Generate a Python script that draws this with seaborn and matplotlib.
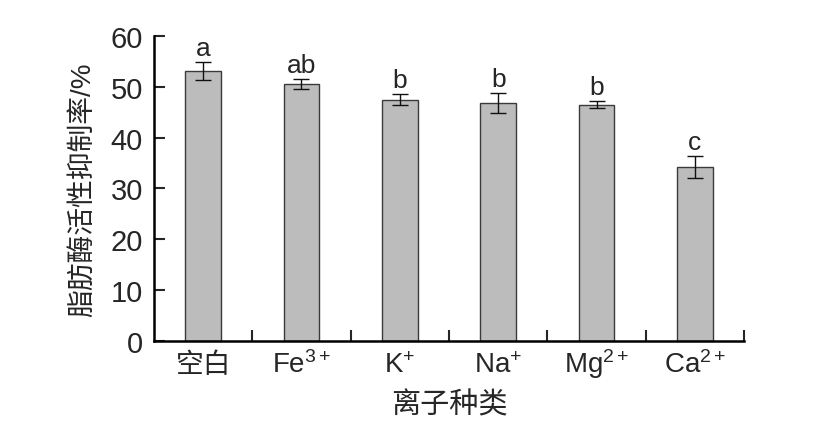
import numpy as np
import pandas as pd
import matplotlib
matplotlib.use("Agg")
import matplotlib.pyplot as plt
import seaborn as sns
from matplotlib.ticker import FixedLocator

# datos
iones = ["空白", "Fe$^{3+}$", "K$^{+}$", "Na$^{+}$", "Mg$^{2+}$", "Ca$^{2+}$"]
inhibicion = [53.1, 50.5, 47.5, 46.8, 46.5, 34.3]
desviacion = [1.8, 1.0, 1.0, 2.0, 0.7, 2.15]
letras = ["a", "ab", "b", "b", "b", "c"]

df = pd.DataFrame({"ion": iones, "inhibicion": inhibicion, "sd": desviacion})

sns.set_style("ticks")
plt.rcParams['font.family'] = ['Liberation Sans', 'Noto Sans CJK SC', 'DejaVu Sans']
plt.rcParams['mathtext.fontset'] = 'custom'
plt.rcParams['mathtext.rm'] = 'Liberation Sans'
plt.rcParams['mathtext.it'] = 'Liberation Sans'
plt.rcParams['mathtext.default'] = 'regular'

fig = plt.figure(figsize=(8.16, 4.31), dpi=100)
ax = fig.add_axes([0.1887, 0.2065, 0.7231, 0.7077])

sns.barplot(data=df, x="ion", y="inhibicion", color="#bdbcbd", width=0.36,
            edgecolor="#3a3a3a", linewidth=1.0, saturation=1, errorbar=None, ax=ax)

pos = np.arange(len(iones))
ax.errorbar(pos, df["inhibicion"], yerr=df["sd"], fmt="none", ecolor="#111111",
            elinewidth=1.0, capsize=5.5, capthick=1.0)

for x, m, s, l in zip(pos, inhibicion, desviacion, letras):
    ax.text(x, m + s + 1.4, l, ha="center", va="baseline", fontsize=19,
            family="Liberation Sans")

ax.set_xlim(-0.5, 5.5)
ax.set_ylim(0, 60)
ax.set_yticks(range(0, 61, 10))
ax.tick_params(axis="y", direction="in", length=8, width=1.5, labelsize=21, pad=8)
ax.tick_params(axis="x", which="major", length=0, labelsize=20, pad=22)
ax.xaxis.set_minor_locator(FixedLocator(np.arange(0.5, 5.6, 1.0)))
ax.tick_params(axis="x", which="minor", direction="in", length=8, width=1.5)

# alinear etiquetas en la linea base (la g de Mg no debe bajar el texto)
for lab in ax.get_xticklabels():
    lab.set_va("baseline")
    if lab.get_text() == "空白":
        lab.set_fontsize(20)

ax.set_xlabel("离子种类", fontsize=21, labelpad=8)
ax.set_ylabel("脂肪酶活性抑制率/%", fontsize=20, labelpad=10)

sns.despine(ax=ax)
for sp in ["left", "bottom"]:
    ax.spines[sp].set_linewidth(1.8)
    ax.spines[sp].set_color("black")

plt.savefig("out.png", dpi=100)
